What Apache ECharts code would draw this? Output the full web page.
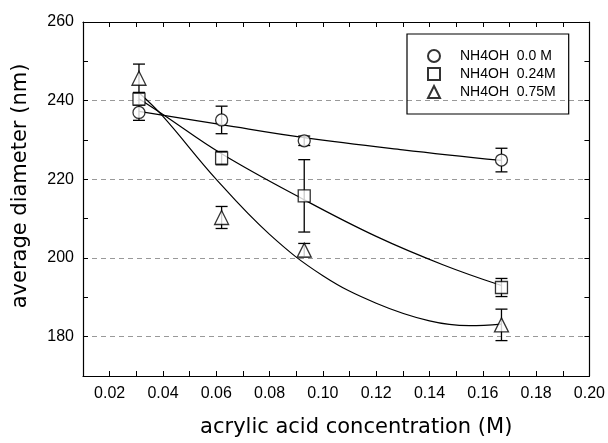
<!DOCTYPE html>
<html>
<head>
<meta charset="utf-8">
<script src="https://cdn.jsdelivr.net/npm/echarts@6/dist/echarts.min.js"></script>
<style>html,body{margin:0;padding:0;background:#fff;}#c{width:608px;height:443px;}</style>
</head>
<body>
<div id="c"></div>
<script>
// ---- data ----
const xConc = [0.031, 0.062, 0.093, 0.167];
const seriesNames = ['NH4OH  0.0 M', 'NH4OH  0.24M', 'NH4OH  0.75M'];
const diam00 = [237.0, 235.1, 229.8, 224.9];
const err00 = [2.0, 3.5, 1.2, 3.0];
const diam024 = [240.4, 225.4, 215.8, 192.5];
const err024 = [1.5, 1.7, 9.2, 2.3];
const diam075 = [245.7, 210.3, 202.0, 183.0];
const err075 = [3.6, 2.8, 1.7, 4.0];
// fitted curves
const fitX00 = [0.031, 0.062, 0.093, 0.13, 0.167];
const fitY00 = [237.3, 233.9, 230.6, 227.5, 224.8];
const fitX024 = [0.031, 0.04, 0.062, 0.093, 0.12, 0.145, 0.167];
const fitY024 = [240.5, 236.5, 226.5, 214.8, 205.5, 198.3, 193.0];
const fitX075 = [0.031, 0.04, 0.06, 0.08, 0.10, 0.12, 0.14, 0.155, 0.167];
const fitY075 = [242.0, 236.0, 220.0, 206.0, 195.5, 188.5, 184.0, 182.8, 183.2];
const symbols = ['circle', 'rect', 'triangle'];

const FONT = 'Liberation Sans, Arial, sans-serif';
const WIDE = 'DejaVu Sans, sans-serif';
const zip = (a, b) => a.map((v, i) => [v, b[i]]);
const zip3 = (a, b, c) => a.map((v, i) => [v, b[i], c[i]]);

const vals = [diam00, diam024, diam075];
const errs = [err00, err024, err075];
const fitsX = [fitX00, fitX024, fitX075];
const fitsY = [fitY00, fitY024, fitY075];

function errorItem(params, api) {
  const x = api.value(0), y = api.value(1), e = api.value(2);
  const top = api.coord([x, y + e]);
  const bot = api.coord([x, y - e]);
  const hw = 6;
  const st = { stroke: '#000', lineWidth: 1.3 };
  return {
    type: 'group',
    children: [
      { type: 'line', shape: { x1: top[0], y1: top[1], x2: bot[0], y2: bot[1] }, style: st },
      { type: 'line', shape: { x1: top[0] - hw, y1: top[1], x2: top[0] + hw, y2: top[1] }, style: st },
      { type: 'line', shape: { x1: bot[0] - hw, y1: bot[1], x2: bot[0] + hw, y2: bot[1] }, style: st }
    ]
  };
}

const series = [];
for (let i = 0; i < 3; i++) {
  series.push({
    type: 'line', name: 'fit' + i, data: zip(fitsX[i], fitsY[i]),
    smooth: 0.4, showSymbol: false, silent: true,
    lineStyle: { color: '#000', width: 1.2 }, z: 2
  });
  series.push({
    type: 'custom', name: 'err' + i, data: zip3(xConc, vals[i], errs[i]),
    renderItem: errorItem, z: 3, silent: true
  });
  series.push({
    type: 'scatter', name: seriesNames[i], data: zip(xConc, vals[i]),
    symbol: symbols[i], symbolSize: i === 2 ? 14 : 12,
    itemStyle: { color: '#fff', borderColor: '#000', borderWidth: 1.3 }, z: 4
  });
}

const chart = echarts.init(document.getElementById('c'), null, { renderer: 'canvas' });
chart.setOption({
  backgroundColor: '#fff',
  animation: false,
  grid: { left: 83, right: 18, top: 22, bottom: 67 },
  legend: {
    data: seriesNames,
    orient: 'vertical',
    left: 407, top: 34,
    itemWidth: 12, itemHeight: 12, itemGap: 4,
    padding: [15, 13, 15, 20],
    borderColor: '#000', borderWidth: 1.2,
    textStyle: { fontFamily: FONT, fontSize: 14, color: '#000', padding: [0, 0, 0, 15] }
  },
  xAxis: [{
    type: 'value', min: 0.01, max: 0.20, interval: 0.01,
    name: 'acrylic acid concentration (M)', nameLocation: 'middle', nameGap: 41,
    nameTextStyle: { fontFamily: WIDE, fontSize: 21, color: '#000', padding: [0, 0, 0, 40] },
    axisLine: { lineStyle: { color: '#000', width: 1.2 } },
    axisTick: { inside: true, length: 5, lineStyle: { color: '#000' } },
    axisLabel: {
      margin: 10, fontFamily: FONT, fontSize: 16, color: '#000',
      formatter: v => (Math.round(v * 100) % 2 === 0 ? v.toFixed(2) : '')
    },
    splitLine: { show: false }
  }, {
    type: 'value', position: 'top', min: 0.01, max: 0.20, interval: 0.01,
    axisLine: { lineStyle: { color: '#000', width: 1.2 } },
    axisTick: { inside: true, length: 5, lineStyle: { color: '#000' } },
    axisLabel: { show: false }, splitLine: { show: false }
  }],
  yAxis: [{
    type: 'value', min: 170, max: 260, interval: 10,
    name: 'average diameter (nm)', nameLocation: 'middle', nameGap: 52,
    nameTextStyle: { fontFamily: WIDE, fontSize: 21, color: '#000', padding: [0, 0, 0, 26] },
    axisLine: { show: true, lineStyle: { color: '#000', width: 1.2 } },
    axisTick: { show: true, inside: true, length: 5, lineStyle: { color: '#000' } },
    axisLabel: {
      margin: 9, fontFamily: FONT, fontSize: 16, color: '#000',
      formatter: v => (Math.round(v) % 20 === 0 ? String(v) : '')
    },
    splitLine: { show: true, lineStyle: { color: ['rgba(0,0,0,0)', '#999'], type: [5, 4], width: 1 } }
  }, {
    type: 'value', position: 'right', min: 170, max: 260, interval: 10,
    axisLine: { show: true, lineStyle: { color: '#000', width: 1.2 } },
    axisTick: { show: true, inside: true, length: 5, lineStyle: { color: '#000' } },
    axisLabel: { show: false }, splitLine: { show: false }
  }],
  series: series
});
</script>
</body>
</html>
